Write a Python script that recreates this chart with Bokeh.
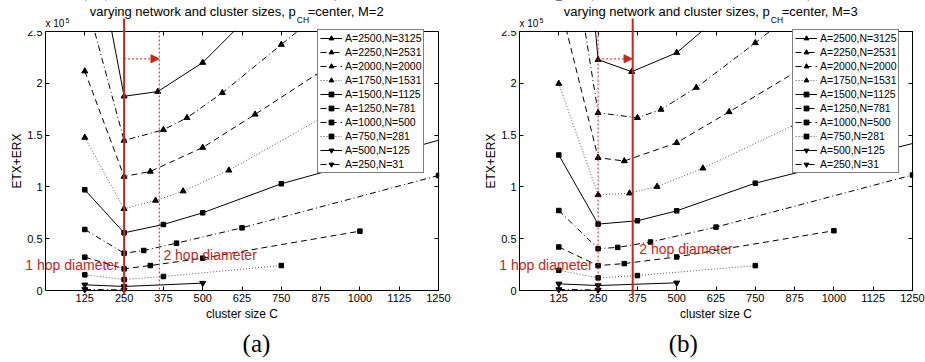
from bokeh.plotting import figure
from bokeh.models import (FixedTicker, NumeralTickFormatter, LinearAxis, Label,
                          Arrow, NormalHead, Range1d, BoxAnnotation)
from bokeh.layouts import row
from bokeh.embed import file_html
from bokeh.resources import INLINE

# ---------------- data (ETX+ERX in units of 1e5) ----------------
labels = ["A=2500,N=3125", "A=2250,N=2531", "A=2000,N=2000", "A=1750,N=1531",
          "A=1500,N=1125", "A=1250,N=781", "A=1000,N=500", "A=750,N=281",
          "A=500,N=125", "A=250,N=31"]

c_2500 = [125, 250, 357, 500, 625]
c_2250 = [125, 250, 375, 450, 562.5, 750, 1125]
c_2000 = [125, 250, 333.3, 500, 666.7, 1000]
c_1750 = [125, 250, 350, 437.5, 583.3, 875]
c_1500 = [125, 250, 375, 500, 750, 1500]
c_1250 = [125, 250, 312.5, 416.7, 625, 1250]
c_1000 = [125, 250, 333.3, 500, 1000]
c_750 = [125, 250, 375, 750]
c_500 = [125, 250, 500]
c_250 = [125, 250]

# M = 2
m2_2500 = [3.87, 1.875, 1.92, 2.20, 2.58]
m2_2250 = [2.85, 1.448, 1.551, 1.667, 1.908, 2.374, 3.3]
m2_2000 = [2.117, 1.10, 1.149, 1.38, 1.70, 2.36]
m2_1750 = [1.477, 0.789, 0.869, 0.959, 1.16, 1.66]
m2_1500 = [0.972, 0.557, 0.637, 0.75, 1.03, 1.66]
m2_1250 = [0.589, 0.36, 0.386, 0.457, 0.605, 1.11]
m2_1000 = [0.322, 0.209, 0.241, 0.312, 0.573]
m2_750 = [0.151, 0.106, 0.135, 0.241]
m2_500 = [0.055, 0.039, 0.071]
m2_250 = [0.010, 0.006]

# M = 3
m3_2500 = [6.4, 2.228, 2.112, 2.295, 2.62]
m3_2250 = [4.1, 1.715, 1.667, 1.747, 1.959, 2.39, 3.3]
m3_2000 = [2.81, 1.282, 1.25, 1.426, 1.724, 2.33]
m3_1750 = [1.997, 0.923, 0.939, 1.003, 1.18, 1.6]
m3_1500 = [1.308, 0.641, 0.673, 0.769, 1.036, 1.61]
m3_1250 = [0.772, 0.404, 0.416, 0.468, 0.612, 1.115]
m3_1000 = [0.42, 0.24, 0.26, 0.324, 0.577]
m3_750 = [0.195, 0.122, 0.144, 0.24]
m3_500 = [0.064, 0.048, 0.074]
m3_250 = [0.010, 0.005]

x_ticks = [125, 250, 375, 500, 625, 750, 875, 1000, 1125, 1250]
y_ticks = [0, 0.5, 1, 1.5, 2, 2.5]
X_MAX = 1250
Y_MAX = 2.5

c_all = [c_2500, c_2250, c_2000, c_1750, c_1500, c_1250, c_1000, c_750, c_500, c_250]
m2_all = [m2_2500, m2_2250, m2_2000, m2_1750, m2_1500, m2_1250, m2_1000, m2_750, m2_500, m2_250]
m3_all = [m3_2500, m3_2250, m3_2000, m3_1750, m3_1500, m3_1250, m3_1000, m3_750, m3_500, m3_250]

# ---------------- styles / layout ----------------
RED = "#C8261B"
FONT = "Liberation Sans"
DASH = ["solid", "6 3 1 3", "6 4", "1 2"] * 2 + ["solid", "6 3 1 3"]
MARK = ["triangle"] * 4 + ["square"] * 4 + ["inverted_triangle"] * 2
MSIZE = [6] * 4 + [4.5] * 4 + [6] * 2

FIG_H = 360
BOX_W = 393       # axes box inside each figure (px)
BOX_T, BOX_H = 31, 259


def make_plot(vals, m, fig_w, box_l, solid_x, dotted_x, arrow_to, cap, cap_x,
              hop2_x, hop2_y, legend_x):
    xpp = X_MAX / BOX_W
    ypp = Y_MAX / BOX_H
    xr = Range1d(-box_l * xpp, (fig_w - box_l) * xpp)
    yr = Range1d(-(FIG_H - BOX_T - BOX_H) * ypp, Y_MAX + BOX_T * ypp)
    p = figure(width=fig_w, height=FIG_H, output_backend="svg", toolbar_location=None,
               x_range=xr, y_range=yr, min_border=0,
               x_axis_location=None, y_axis_location=None,
               background_fill_color="white", border_fill_color="white")
    p.grid.visible = False
    p.outline_line_color = None

    for i in range(len(labels)):
        col = "#555555" if DASH[i] == "1 2" else "black"
        p.line(c_all[i], vals[i], line_color=col, line_width=1, line_dash=DASH[i],
               legend_label=labels[i])
        p.scatter(c_all[i], vals[i], marker=MARK[i], size=MSIZE[i], fill_color="black",
                  line_color="black", legend_label=labels[i])

    # axes (box with inward ticks)
    def mk_axis(loc, fixed, ticks, bounds, show):
        ax = LinearAxis(fixed_location=fixed, bounds=bounds, ticker=FixedTicker(ticks=ticks),
                        major_tick_in=4, major_tick_out=0, minor_tick_line_color=None,
                        axis_line_color="black", major_tick_line_color="black",
                        major_label_standoff=3,
                        major_label_text_font=FONT, major_label_text_font_size="11px",
                        major_label_text_color="black",
                        axis_label_text_font=FONT, axis_label_text_font_size="12px",
                        axis_label_text_color="black",
                        axis_label_text_font_style="normal")
        if not show:
            ax.major_label_text_color = None
        p.add_layout(ax, loc)
        return ax

    xb = mk_axis("below", 0, x_ticks, (0, X_MAX), True)
    xb.axis_label = "cluster size C"
    xb.axis_label_standoff = 2
    yl = mk_axis("left", 0, y_ticks, (0, Y_MAX), True)
    yl.axis_label = "ETX+ERX"
    yl.axis_label_standoff = 0
    yl.formatter = NumeralTickFormatter(format="0.[0]")
    mk_axis("above", Y_MAX, x_ticks, (0, X_MAX), False)
    mk_axis("right", X_MAX, y_ticks, (0, Y_MAX), False)

    # masks that keep curves inside the axes box
    p.add_layout(BoxAnnotation(bottom=Y_MAX + 0.7 * ypp, fill_color="white", fill_alpha=1,
                               line_color=None))
    p.add_layout(BoxAnnotation(left=X_MAX + 0.7 * xpp, bottom=0, fill_color="white",
                               fill_alpha=1, line_color=None))

    # legend
    lg = p.legend[0]
    lg.location = (legend_x, FIG_H - BOX_T - 142)
    lg.padding = 2
    lg.spacing = 2
    lg.label_height = 12
    lg.glyph_height = 12
    lg.glyph_width = 22
    lg.label_standoff = 3
    lg.label_text_font = FONT
    lg.label_text_font_size = "10.5px"
    lg.label_text_color = "black"
    lg.border_line_color = "black"
    lg.border_line_width = 1
    lg.background_fill_alpha = 1

    # red annotations
    p.add_layout(Arrow(end=None, x_start=solid_x, y_start=Y_MAX + 13 * ypp, x_end=solid_x,
                       y_end=-4 * ypp, line_color=RED, line_width=2))
    p.add_layout(Arrow(end=None, x_start=dotted_x, y_start=Y_MAX, x_end=dotted_x, y_end=0,
                       line_color=RED, line_dash="2 2", line_width=1))
    p.add_layout(Arrow(end=NormalHead(size=8, fill_color=RED, line_color=RED),
                       x_start=250, y_start=2.236, x_end=arrow_to, y_end=2.236,
                       line_color=RED, line_dash="2 2", line_width=1))
    p.add_layout(Label(x=233, y=0.242, text="1 hop diameter", text_align="right",
                       text_baseline="middle", text_color=RED, text_font=FONT,
                       text_font_size="14px"))
    p.add_layout(Label(x=hop2_x, y=hop2_y, text="2 hop diameter", text_align="left",
                       text_baseline="middle", text_color=RED, text_font=FONT,
                       text_font_size="14px"))

    # title with subscript
    tx = 796
    p.add_layout(Label(x=tx, y=Y_MAX + 20 * ypp, text="varying network and cluster sizes, p",
                       text_align="right", text_baseline="middle", text_font=FONT,
                       text_font_size="13px", text_color="black"))
    p.add_layout(Label(x=tx, x_offset=1, y=Y_MAX + 11.5 * ypp, text="CH", text_align="left",
                       text_baseline="middle", text_font=FONT, text_font_size="8.5px",
                       text_color="black"))
    p.add_layout(Label(x=tx, x_offset=12, y=Y_MAX + 20 * ypp, text="=center, M=%d" % m,
                       text_align="left", text_baseline="middle", text_font=FONT,
                       text_font_size="13px", text_color="black"))
    # exponent
    p.add_layout(Label(x=0, y=Y_MAX + 7.7 * ypp, text="x 10", text_align="left",
                       text_baseline="middle", text_font=FONT, text_font_size="10px",
                       text_color="black"))
    p.add_layout(Label(x=0, x_offset=20, y=Y_MAX + 11 * ypp, text="5", text_align="left",
                       text_baseline="middle", text_font=FONT, text_font_size="7px",
                       text_color="black"))
    # caption
    p.add_layout(Label(x=cap_x, y=-53 * ypp, text=cap, text_align="center",
                       text_baseline="middle", text_font="Liberation Serif",
                       text_font_size="25px", text_color="black"))
    return p


p1 = make_plot(m2_all, 2, 482, 45, 250, 362, 361, "(a)", 671, 375, 0.347, 317)
p2 = make_plot(m3_all, 3, 443, 37, 360, 250, 358, "(b)", 521, 381, 0.401, 310)

layout = row(p1, p2)
open("out.html", "w").write(file_html(layout, INLINE))
